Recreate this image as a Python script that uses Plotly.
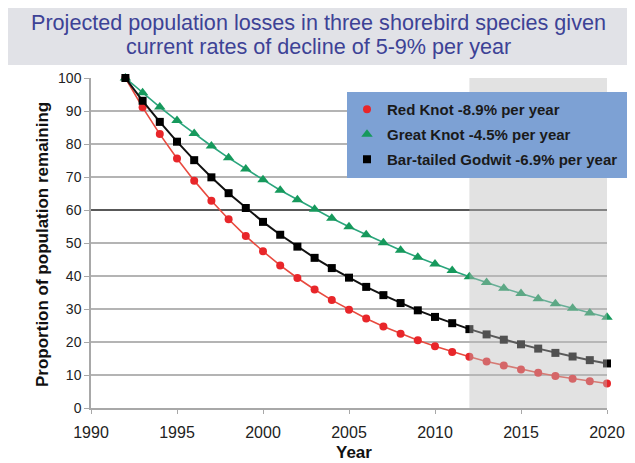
import plotly.graph_objects as go

years = [1992, 1993, 1994, 1995, 1996, 1997, 1998, 1999, 2000, 2001, 2002, 2003, 2004, 2005,
         2006, 2007, 2008, 2009, 2010, 2011, 2012, 2013, 2014, 2015, 2016, 2017, 2018, 2019, 2020]
red_knot = [100, 91.1, 83.0, 75.6, 68.9, 62.8, 57.2, 52.1, 47.5, 43.2, 39.4, 35.9, 32.7, 29.8,
            27.1, 24.7, 22.5, 20.5, 18.7, 17.0, 15.5, 14.1, 12.9, 11.7, 10.7, 9.7, 8.9, 8.1, 7.4]
great_knot = [100, 95.5, 91.2, 87.1, 83.2, 79.4, 75.8, 72.4, 69.2, 66.0, 63.1, 60.2, 57.5, 54.9,
              52.5, 50.1, 47.8, 45.7, 43.6, 41.7, 39.8, 38.0, 36.3, 34.7, 33.1, 31.6, 30.2, 28.8, 27.5]
godwit = [100, 93.1, 86.7, 80.7, 75.1, 69.9, 65.1, 60.6, 56.4, 52.5, 48.9, 45.5, 42.4, 39.5,
          36.7, 34.2, 31.8, 29.6, 27.6, 25.7, 23.9, 22.3, 20.7, 19.3, 18.0, 16.7, 15.6, 14.5, 13.5]

series_names = ["Red Knot -8.9% per year", "Great Knot -4.5% per year", "Bar-tailed Godwit -6.9% per year"]
title_lines = ["Projected population losses in three shorebird species given",
               "current rates of decline of 5-9% per year"]
x_ticks = [1990, 1995, 2000, 2005, 2010, 2015, 2020]
y_ticks = [0, 10, 20, 30, 40, 50, 60, 70, 80, 90, 100]
projection_start = 2012

FONT = "Liberation Sans, Arial, sans-serif"

styles = [
    dict(data=red_knot, line="#e84a3f", marker="#e8262a", symbol="circle", size=8, lw=1.6),
    dict(data=great_knot, line="#2aa57c", marker="#16995c", symbol="triangle-up", size=10, lw=1.6),
    dict(data=godwit, line="#111111", marker="#000000", symbol="square", size=8, lw=2),
]

fig = go.Figure()
for name, st in zip(series_names, styles):
    fig.add_trace(go.Scatter(
        x=years, y=st["data"], mode="lines+markers", showlegend=False, cliponaxis=False,
        line=dict(color=st["line"], width=st["lw"]),
        marker=dict(color=st["marker"], symbol=st["symbol"], size=st["size"]),
    ))
for i, (name, st) in enumerate(zip(series_names, styles)):
    fig.add_trace(go.Scatter(
        x=[None], y=[None], mode="markers", name=name, legendgroup=f"g{i}",
        marker=dict(color=st["marker"], symbol=st["symbol"], size=st["size"]),
    ))

# the page body has an 8px margin, so the figure is drawn 8px in from the window edge
OFF = 8
W, H = 635 - OFF, 463 - OFF
L, R, T, B = 91 - OFF, 28, 78 - OFF, 55
pw, ph = W - L - R, H - T - B
def px_x(p):  # screen px -> paper
    return (p - OFF - L) / pw
def px_y(p):
    return (H - B - (p - OFF)) / ph

shapes = [
    dict(type="line", xref="x", yref="y", x0=1990, x1=2020, y0=60, y1=60,
         line=dict(color="#3a3a3a", width=1.5), layer="between"),
    dict(type="rect", xref="x", yref="y", x0=projection_start, x1=2020, y0=0, y1=100,
         fillcolor="rgba(188,188,188,0.43)", line=dict(width=0), layer="above"),
    dict(type="rect", xref="paper", yref="paper", x0=px_x(8), x1=px_x(627), y0=px_y(65), y1=px_y(8),
         fillcolor="#e1e2e7", line=dict(width=0), layer="above"),
    dict(type="rect", xref="paper", yref="paper", x0=px_x(347), x1=px_x(628), y0=px_y(178), y1=px_y(92),
         fillcolor="#7da1d4", line=dict(width=0), layer="above"),
]

annotations = [
    dict(text=title_lines[0], x=px_x(318), y=px_y(22), xref="paper", yref="paper",
         showarrow=False, xanchor="center", yanchor="middle",
         font=dict(family=FONT, size=21.6, color="#3d4296")),
    dict(text=title_lines[1], x=px_x(318), y=px_y(47), xref="paper", yref="paper",
         showarrow=False, xanchor="center", yanchor="middle",
         font=dict(family=FONT, size=21.6, color="#3d4296")),
    dict(text="<b>Year</b>", x=px_x(354), y=px_y(453), xref="paper", yref="paper",
         showarrow=False, xanchor="center", yanchor="middle",
         font=dict(family=FONT, size=17, color="#111111")),
    dict(text="<b>Proportion of population remaining</b>", x=px_x(42), y=px_y(245),
         xref="paper", yref="paper", showarrow=False, textangle=-90,
         xanchor="center", yanchor="middle",
         font=dict(family=FONT, size=17, color="#111111")),
]

fig.update_layout(
    width=W, height=H,
    margin=dict(l=L, r=R, t=T, b=B, autoexpand=False),
    paper_bgcolor="white", plot_bgcolor="white",
    font=dict(family=FONT, color="#222222"),
    shapes=shapes, annotations=annotations,
    legend=dict(x=px_x(347), y=px_y(93), xanchor="left", yanchor="top",
                bgcolor="rgba(0,0,0,0)", borderwidth=0, tracegroupgap=2.5,
                font=dict(family=FONT, size=15, color="#1a1a1a", weight="bold")),
    xaxis=dict(range=[1990, 2020], tickvals=x_ticks, showgrid=False, zeroline=False,
               showline=True, linecolor="#a8a8a8", linewidth=1.5,
               ticks="outside", ticklen=4, tickcolor="#a8a8a8", tickwidth=1,
               ticklabelstandoff=5,
               tickfont=dict(family=FONT, size=16, color="#222222")),
    yaxis=dict(range=[0, 100], tickvals=y_ticks, showgrid=True, gridcolor="#b4b4b4", gridwidth=1.5,
               zeroline=False, showline=True, linecolor="#a8a8a8", linewidth=1.5,
               ticks="outside", ticklen=5, tickcolor="#a8a8a8", tickwidth=1,
               tickfont=dict(family=FONT, size=14, color="#222222")),
)

fig.write_html("out.html")
